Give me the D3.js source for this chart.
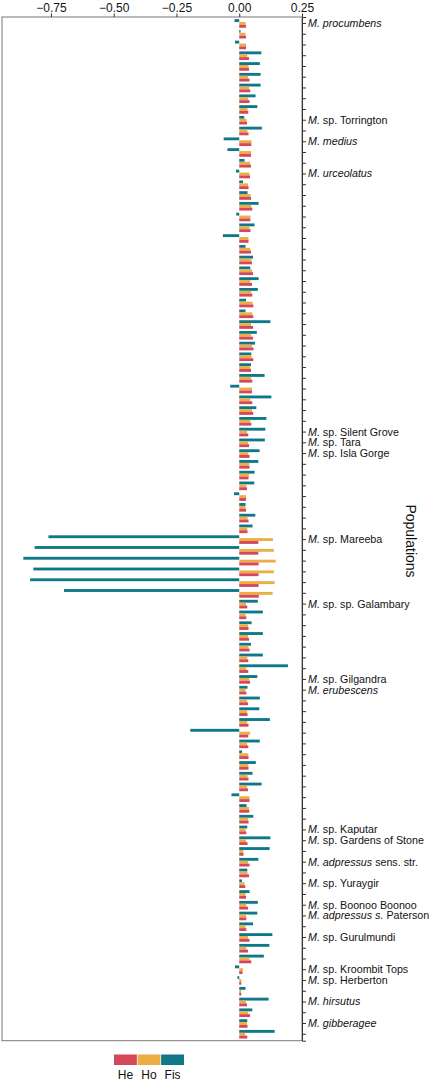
<!DOCTYPE html>
<html>
<head>
<meta charset="utf-8">
<script src="https://cdn.jsdelivr.net/npm/d3@7"></script>
<style>
body{margin:0;background:#fff;}
svg{font-family:"Liberation Sans",Arial,sans-serif;}
</style>
</head>
<body>
<svg id="chart" width="429" height="1080"></svg>
<script>
// values, top row first
const fis=[
-0.019,0.005,-0.017,0.088,0.082,0.085,0.085,0.065,0.072,0.020,
0.090,-0.062,-0.047,0.021,-0.013,0.015,0.033,0.077,-0.012,0.061,
-0.065,0.025,0.055,0.044,0.077,0.074,0.027,0.025,0.124,0.070,
0.063,0.048,0.047,0.101,-0.036,0.128,0.068,0.108,0.104,0.102,
0.081,0.076,0.061,0.060,-0.021,0.025,0.064,0.053,-0.760,-0.815,
-0.860,-0.820,-0.833,-0.698,0.074,0.094,0.049,0.094,0.047,0.094,
0.194,0.072,0.033,0.082,0.080,0.122,-0.195,0.082,0.011,0.066,
0.053,0.089,-0.031,0.029,0.056,0.032,0.124,0.121,0.076,0.032,
0.011,0.041,0.074,0.072,0.055,0.132,0.120,0.098,-0.017,-0.007,
0.025,0.117,0.052,0.032,0.141];
const ho=[
0.025,0.025,0.027,0.032,0.037,0.035,0.039,0.035,0.033,0.029,
0.032,0.049,0.047,0.043,0.041,0.035,0.045,0.048,0.045,0.041,
0.037,0.044,0.048,0.051,0.044,0.048,0.053,0.052,0.047,0.048,
0.051,0.049,0.044,0.047,0.051,0.044,0.051,0.044,0.031,0.035,
0.036,0.040,0.039,0.028,0.027,0.025,0.033,0.032,0.134,0.138,
0.145,0.138,0.141,0.133,0.027,0.025,0.035,0.035,0.037,0.032,
0.028,0.040,0.025,0.031,0.031,0.032,0.043,0.031,0.036,0.036,
0.033,0.031,0.041,0.039,0.036,0.025,0.027,0.016,0.035,0.033,
0.021,0.025,0.028,0.027,0.025,0.035,0.028,0.041,0.015,0.008,
0.007,0.027,0.036,0.031,0.024];
const he=[
0.027,0.027,0.027,0.039,0.039,0.041,0.044,0.041,0.036,0.031,
0.037,0.048,0.047,0.047,0.043,0.037,0.047,0.052,0.044,0.045,
0.037,0.047,0.051,0.055,0.051,0.052,0.056,0.056,0.055,0.055,
0.057,0.056,0.047,0.052,0.051,0.052,0.056,0.048,0.036,0.039,
0.041,0.041,0.037,0.031,0.027,0.027,0.037,0.033,0.076,0.076,
0.077,0.077,0.077,0.078,0.032,0.028,0.037,0.039,0.041,0.036,
0.036,0.043,0.028,0.035,0.033,0.037,0.036,0.036,0.037,0.037,
0.037,0.035,0.041,0.040,0.037,0.028,0.033,0.017,0.041,0.039,
0.024,0.027,0.035,0.028,0.028,0.041,0.035,0.048,0.013,0.008,
0.008,0.031,0.043,0.033,0.032];

// only some populations carry a name; *...* = italic
const popLabels=[
[0,"*M. procumbens*"],[9,"*M.* sp. Torrington"],[11,"*M. medius*"],[14,"*M. urceolatus*"],
[38,"*M.* sp. Silent Grove"],[39,"*M.* sp. Tara"],[40,"*M.* sp. Isla Gorge"],
[48,"*M.* sp. Mareeba"],[54,"*M.* sp. sp. Galambary"],[61,"*M.* sp. Gilgandra"],
[62,"*M. erubescens*"],[75,"*M.* sp. Kaputar"],[76,"*M.* sp. Gardens of Stone"],
[78,"*M. adpressus* sens. str."],[80,"*M.* sp. Yuraygir"],[82,"*M.* sp. Boonoo Boonoo"],
[83,"*M. adpressus s.* Paterson"],[85,"*M.* sp. Gurulmundi"],[88,"*M.* sp. Kroombit Tops"],
[89,"*M.* sp. Herberton"],[91,"*M. hirsutus*"],[93,"*M. gibberagee*"]];

const seriesNames=["He","Ho","Fis"];
const xTicks=[-0.75,-0.5,-0.25,0,0.25];
const colors={He:"#d5475a",Ho:"#eaae45",Fis:"#0e7889"};

const svg=d3.select("#chart");
const plotL=2,plotR=302,plotT=17,plotB=1040.7;

const pops=d3.range(fis.length);
const labelOf=new Map(popLabels);
const rows=pops.map(i=>({i:i,He:he[i],Ho:ho[i],Fis:fis[i]}));

const x=d3.scaleLinear().domain([-0.945,0.25]).range([plotL,plotR]);
const y=d3.scaleBand().domain(pops).range([plotT,plotB]).paddingInner(0).paddingOuter(0.1);
// Fis on top, He at the bottom of each group
const inner=d3.scaleBand().domain(["Fis","Ho","He"]).range([0,y.bandwidth()]).paddingOuter(0.375);

const groups=svg.append("g").selectAll("g").data(rows).join("g")
  .attr("transform",d=>"translate(0,"+y(d.i)+")");
groups.selectAll("rect").data(d=>["Fis","Ho","He"].map(k=>({k:k,v:d[k]}))).join("rect")
  .attr("x",d=>x(Math.min(0,d.v)))
  .attr("width",d=>Math.abs(x(d.v)-x(0)))
  .attr("y",d=>inner(d.k))
  .attr("height",inner.bandwidth())
  .attr("fill",d=>colors[d.k]);

// frame
svg.append("rect").attr("x",plotL).attr("y",plotT).attr("width",plotR-plotL).attr("height",plotB-plotT)
  .attr("fill","none").attr("stroke","#777").attr("stroke-width",1);

const xAxis=svg.append("g").attr("transform","translate(0,"+plotT+")")
  .call(d3.axisTop(x).tickValues(xTicks).tickFormat(d3.format(".2f")).tickSize(3.5).tickPadding(2));
xAxis.select(".domain").remove();
xAxis.selectAll("line").attr("stroke","#333");
xAxis.selectAll("text").attr("font-size",12).attr("fill","#111").attr("font-family","Liberation Sans,Arial,sans-serif");

const yAxis=svg.append("g").attr("transform","translate("+plotR+",0)")
  .call(d3.axisRight(y).tickSize(4).tickPadding(2).tickFormat(""));
yAxis.select(".domain").attr("stroke","#333");
yAxis.selectAll("line").attr("stroke","#333");
yAxis.selectAll(".tick text").attr("font-size",10.7).attr("fill","#111")
  .attr("font-family","Liberation Sans,Arial,sans-serif")
  .each(function(d){
    const s=labelOf.get(d);
    if(!s) return;
    const t=d3.select(this);
    s.split("*").forEach((part,k)=>{
      if(part==="") return;
      t.append("tspan").text(part).attr("font-style",k%2===1?"italic":"normal");
    });
  });

svg.append("text").attr("transform","translate(406,541) rotate(90)")
  .attr("text-anchor","middle").attr("font-size",14).attr("fill","#111").text("Populations");

// legend
const lg=d3.scaleBand().domain(seriesNames).range([114,184]).paddingInner(0.03);
svg.append("g").selectAll("rect").data(seriesNames).join("rect")
  .attr("x",d=>lg(d)).attr("y",1054.5).attr("width",lg.bandwidth()).attr("height",10.5)
  .attr("fill",d=>colors[d]);
svg.append("g").selectAll("text").data(seriesNames).join("text")
  .attr("x",d=>lg(d)+lg.bandwidth()/2).attr("y",1078.5).attr("text-anchor","middle")
  .attr("font-size",12).attr("fill","#111").text(d=>d);
</script>
</body>
</html>
